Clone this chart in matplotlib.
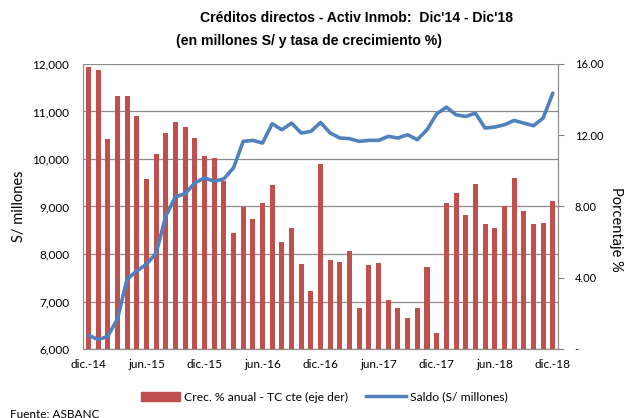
import numpy as np
import matplotlib
matplotlib.use("Agg")
import matplotlib.pyplot as plt
from matplotlib.lines import Line2D
from matplotlib.patches import Patch

# monthly data, dic-14 .. dic-18
growth = [15.85, 15.66, 11.79, 14.19, 14.19, 13.09, 9.55, 10.95, 12.12, 12.76,
          12.46, 11.84, 10.85, 10.72, 9.42, 6.51, 7.96, 7.27, 8.17, 9.19,
          6.02, 6.77, 4.76, 3.24, 10.39, 4.98, 4.90, 5.52, 2.28, 4.70,
          4.85, 2.76, 2.28, 1.72, 2.33, 4.63, 0.88, 8.17, 8.78, 7.55,
          9.29, 6.99, 6.77, 8.04, 9.62, 7.76, 6.99, 7.07, 8.30]
saldo = [6294, 6196, 6266, 6630, 7469, 7643, 7783, 8014, 8797, 9204,
         9267, 9497, 9602, 9531, 9581, 9812, 10370, 10391, 10336, 10742,
         10615, 10755, 10546, 10580, 10769, 10546, 10441, 10427, 10370, 10392,
         10392, 10476, 10441, 10511, 10406, 10615, 10950, 11091, 10930, 10895,
         10965, 10651, 10672, 10720, 10811, 10755, 10700, 10860, 11385]
tick_labels = ["dic.-14", "jun.-15", "dic.-15", "jun.-16", "dic.-16",
               "jun.-17", "dic.-17", "jun.-18", "dic.-18"]

BAR_COLOR = "#C0504D"
LINE_COLOR = "#4F81BD"
FONT = "Lato"
TITLE_FONT = "Liberation Sans"

fig = plt.figure(figsize=(6.29, 4.18), dpi=100)
ax = fig.add_axes([0.132, 0.165, 0.755, 0.682])
ax2 = ax.twinx()

x = np.arange(len(growth))

# bars on right axis
ax2.bar(x, growth, width=0.52, color=BAR_COLOR, zorder=2)
ax2.set_ylim(0, 16)
ax2.set_yticks([0, 4, 8, 12, 16])
ax2.set_yticklabels(["-", "4.00", "8.00", "12.00", "16.00"], fontsize=8, family=FONT)
ax2.tick_params(axis="y", length=4, color="#808080", pad=8)
ax2.set_ylabel("Porcentaje %", rotation=-90, fontsize=10.5, family=FONT)
ax2.yaxis.set_label_coords((623 - 83) / 475, 0.42)

# line on left axis, drawn above bars
ax.set_zorder(ax2.get_zorder() + 1)
ax.patch.set_visible(False)
ax.plot(x, saldo, color=LINE_COLOR, lw=2.6, solid_capstyle="round", zorder=3)
ax.set_ylim(6000, 12000)
ax.set_yticks(range(6000, 12001, 1000))
ax.set_yticklabels([f"{v:,}" for v in range(6000, 12001, 1000)], fontsize=8.5, family=FONT)
ax.tick_params(axis="y", length=0, pad=10)
ax.set_ylabel("S/ millones", fontsize=10.5, family=FONT)
ax.yaxis.set_label_coords((26 - 83) / 475, 0.5)

ax.set_xlim(-0.55, len(growth) - 0.47)
ax.set_xticks(np.arange(0, len(growth), 6))
ax.set_xticklabels(tick_labels, fontsize=8.5, family=FONT)
ax.tick_params(axis="x", length=0, pad=7)

# horizontal grid following left axis
for v in range(6000, 12001, 1000):
    ax2.axhline((v - 6000) / 6000 * 16, color="#8c8c8c", lw=0.9, zorder=1)

for a in (ax, ax2):
    for s in ["top", "left"]:
        a.spines[s].set_visible(False)
    a.spines["bottom"].set_color("#8c8c8c")
    a.spines["right"].set_color("#8c8c8c")
ax2.spines["left"].set_visible(True)
ax2.spines["left"].set_color("#8c8c8c")

fig.text(200 / 629, 1 - 18 / 418, "Créditos directos - Activ Inmob:  Dic'14 - Dic'18",
         fontsize=10.1, fontweight="bold", family=TITLE_FONT, va="center")
fig.text(176 / 629, 1 - 41 / 418, "(en millones S/ y tasa de crecimiento %)",
         fontsize=10.1, fontweight="bold", family=TITLE_FONT, va="center")

handles = [Patch(color=BAR_COLOR), Line2D([0], [0], color=LINE_COLOR, lw=2.5)]
fig.legend(handles, ["Crec. % anual - TC cte (eje der)", "Saldo (S/ millones)"],
           loc="center", bbox_to_anchor=(324 / 629, 1 - 397 / 418), ncol=2,
           frameon=False, prop={"family": FONT, "size": 8.7}, handlelength=3.3,
           handletextpad=0.3, columnspacing=1.5)

fig.text(10 / 629, 1 - 414 / 418, "Fuente: ASBANC", fontsize=8.5, family=FONT, va="center")

fig.savefig("out.png", dpi=100)
